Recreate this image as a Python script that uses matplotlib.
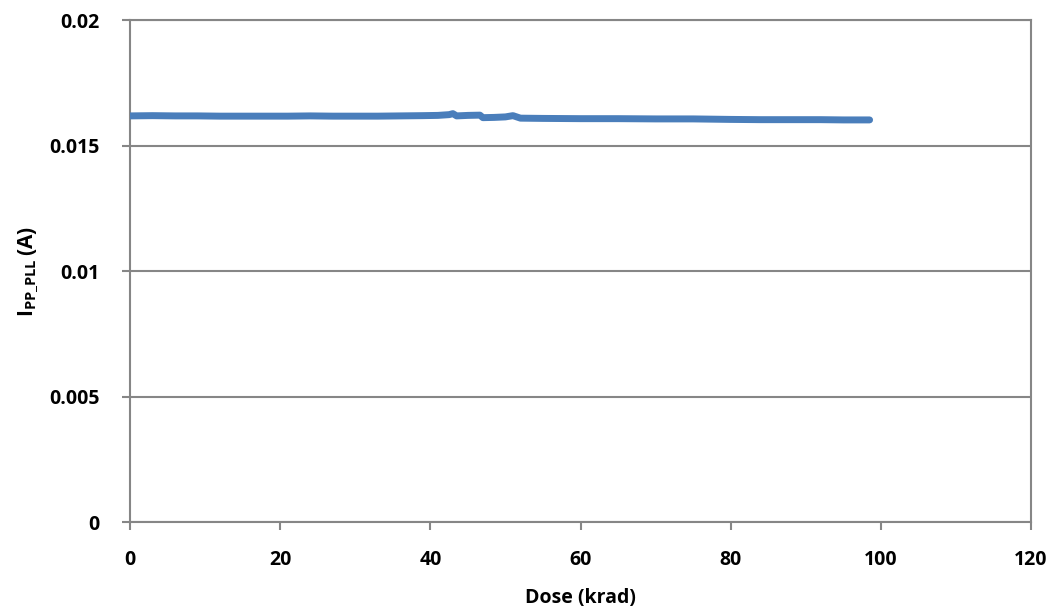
import matplotlib
matplotlib.use("Agg")
import matplotlib.pyplot as plt

# values
dose_krad = [0, 3, 6, 9, 12, 15, 18, 21, 24, 27, 30, 33, 36, 39, 41, 42.5, 43, 43.5,
             45, 46.6, 47, 48.5, 50, 51, 52, 55, 60, 65, 70, 75, 80, 84, 88, 92, 95, 98.5]
i_pp_pll = [0.01618, 0.01619, 0.01618, 0.01618, 0.01617, 0.01617, 0.01617, 0.01617,
            0.01618, 0.01617, 0.01617, 0.01617, 0.01618, 0.01619, 0.01620, 0.01623,
            0.01627, 0.01618, 0.01620, 0.01621, 0.01611, 0.01612, 0.01614, 0.01619,
            0.01609, 0.01608, 0.01607, 0.01607, 0.01606, 0.01606, 0.01604, 0.01603,
            0.01603, 0.01603, 0.01602, 0.01602]
x_ticks = [0, 20, 40, 60, 80, 100, 120]
y_ticks = [0, 0.005, 0.01, 0.015, 0.02]
y_tick_labels = ["0", "0.005", "0.01", "0.015", "0.02"]

plt.rcParams["font.family"] = ["Open Sans", "DejaVu Sans"]
plt.rcParams["font.weight"] = "bold"
plt.rcParams["mathtext.fontset"] = "custom"
plt.rcParams["mathtext.rm"] = "Open Sans:bold"
plt.rcParams["mathtext.bf"] = "Open Sans:bold"

fig = plt.figure(figsize=(10.58, 6.14), dpi=100)
ax = fig.add_axes([0.1229, 0.1498, 0.8516, 0.8176])

grey = "#868686"
ax.plot(dose_krad, i_pp_pll, color="#4A7EBB", lw=5, solid_capstyle="round", zorder=3)

ax.set_xlim(0, 120)
ax.set_ylim(0, 0.02)
ax.set_xticks(x_ticks)
ax.set_yticks(y_ticks)
ax.set_yticklabels(y_tick_labels)
ax.grid(axis="y", color=grey, lw=1.5)
ax.set_axisbelow(True)
for s in ax.spines.values():
    s.set_color(grey)
    s.set_linewidth(1.5)
ax.tick_params(colors=grey, width=1.5, length=6, labelcolor="black", labelsize=14)
ax.tick_params(axis="y", pad=16)
ax.tick_params(axis="x", pad=14)
for lab in ax.get_xticklabels() + ax.get_yticklabels():
    lab.set_fontweight("bold")

ax.set_xlabel("Dose (krad)", fontsize=14, fontweight="bold", va="center")
ax.xaxis.set_label_coords(0.5, -0.151)
ax.set_ylabel(r"$\mathbf{I_{PP\_PLL}\,(A)}$", fontsize=15, va="center")
ax.yaxis.set_label_coords(-0.113, 0.5)

fig.savefig("out.png", dpi=100)
plt.close(fig)
